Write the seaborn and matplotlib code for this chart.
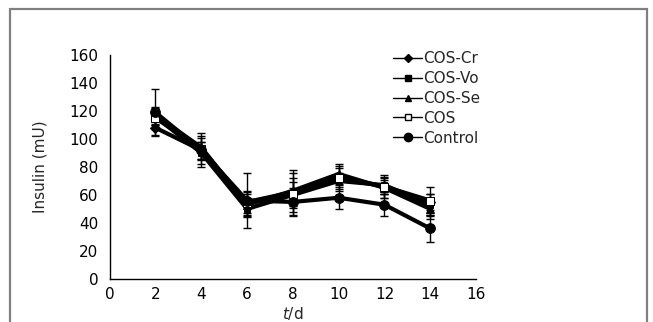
import numpy as np
import pandas as pd
import matplotlib
matplotlib.use('Agg')
import matplotlib.pyplot as plt
from matplotlib.lines import Line2D
from matplotlib.patches import Rectangle
import seaborn as sns

# values
days = [2, 4, 6, 8, 10, 12, 14]
groups = ['COS-Cr', 'COS-Vo', 'COS-Se', 'COS', 'Control']
cos_cr = [108, 92, 55, 62, 73, 66, 55]
cos_vo = [116, 90, 50, 60, 70, 67, 53]
cos_se = [117, 94, 53, 63, 75, 65, 50]
cos = [115, 93, 54, 61, 72, 66, 56]
control = [119, 92, 56, 55, 58, 53, 36]
err_cr = [5, 6, 8, 10, 6, 5, 6]
err_vo = [6, 8, 6, 9, 6, 6, 8]
err_se = [6, 8, 8, 15, 7, 7, 7]
err_cos = [5, 8, 8, 15, 9, 8, 10]
err_control = [17, 12, 20, 10, 8, 8, 10]

values = [cos_cr, cos_vo, cos_se, cos, control]
errors = [err_cr, err_vo, err_se, err_cos, err_control]
markers = ['D', 's', '^', 's', 'o']
faces = ['black', 'black', 'black', 'white', 'black']
msizes = [5, 5, 6, 6, 7]

rows = []
for g, v, e in zip(groups, values, errors):
    for d, y, s in zip(days, v, e):
        rows.append({'day': d, 'insulin': y, 'err': s, 'group': g})
df = pd.DataFrame(rows)

sns.set_style('white')
plt.rcParams['font.family'] = ['DejaVu Sans']
plt.rcParams['mathtext.fontset'] = 'dejavusans'

fig = plt.figure(figsize=(6.53, 3.22), dpi=100)
ax = fig.add_axes([0.168, 0.134, 0.561, 0.695])

for g, m, fc, ms in zip(groups, markers, faces, msizes):
    sub = df[df['group'] == g]
    ax.errorbar(sub['day'], sub['insulin'], yerr=sub['err'], fmt='none',
                ecolor='black', elinewidth=1, capsize=3, capthick=1, zorder=2)
    sns.lineplot(data=sub, x='day', y='insulin', ax=ax, color='black',
                 linewidth=3, marker=m, markersize=ms, markerfacecolor=fc,
                 markeredgecolor='black', zorder=3, legend=False)

ax.set_xlim(0, 16)
ax.set_ylim(0, 160)
ax.set_xticks(range(0, 17, 2))
ax.set_yticks(range(0, 161, 20))
ax.tick_params(axis='both', direction='in', length=3, width=1, labelsize=11,
               colors='black')
ax.tick_params(axis='y', pad=8)
ax.tick_params(axis='x', pad=6)
for side in ['top', 'right']:
    ax.spines[side].set_visible(False)
for side in ['left', 'bottom']:
    ax.spines[side].set_color('black')
    ax.spines[side].set_linewidth(1)
ax.set_xlabel('$\\it{t}$/d', fontsize=11, labelpad=2)
ax.set_ylabel('Insulin (mU)', fontsize=11, labelpad=16)

handles = [Line2D([0], [0], color='black', linewidth=1, marker=m,
                  markersize=ms - 1, markerfacecolor=fc,
                  markeredgecolor='black')
           for m, fc, ms in zip(markers, faces, msizes)]
fig.legend(handles, groups, loc='upper left',
           bbox_to_anchor=(387 / 653, 1 - 45 / 322), frameon=False,
           fontsize=11, handlelength=1.9, handletextpad=0.05,
           labelspacing=0.32, borderaxespad=0)

fig.patches.append(Rectangle((10 / 653, -0.2), 637 / 653, 1 - 9 / 322 + 0.2,
                             transform=fig.transFigure, fill=False,
                             edgecolor='#808080', linewidth=1.6))

fig.savefig('out.png', dpi=100)
